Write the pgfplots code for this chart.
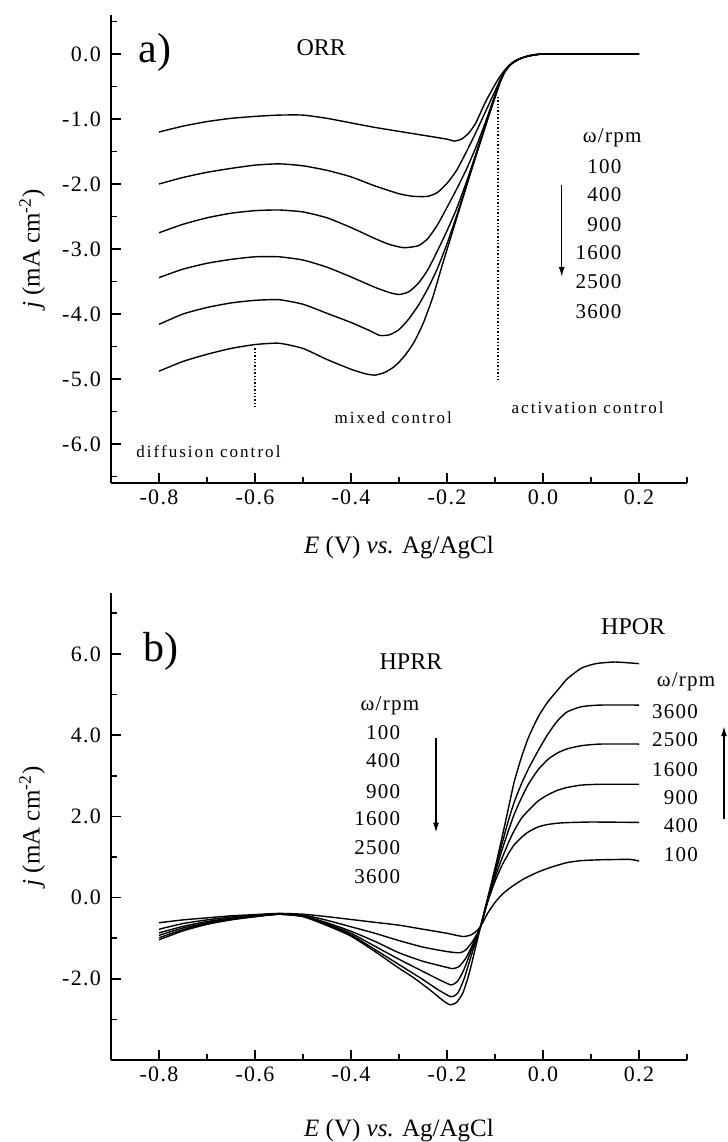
\documentclass[border=0pt]{standalone}
\usepackage{fontspec}
\setmainfont{Liberation Serif}
\newfontfamily\spaced{Liberation Serif}[LetterSpace=12]
\newfontfamily\tickfont{Liberation Serif}[LetterSpace=6]
\usepackage{pgfplots}
\pgfplotsset{compat=1.18}
\usetikzlibrary{arrows.meta}

\pgfplotsset{
  myaxis/.style={
    scale only axis, width=288pt,
    axis lines=left, axis line style={-, line width=1pt},
    xmin=-0.9, xmax=0.3,
    xtick={-0.8,-0.6,-0.4,-0.2,0,0.2},
    minor xtick={-0.7,-0.5,-0.3,-0.1,0.1,0.3},
    tick align=inside, tick pos=left,
    major tick length=5pt, minor tick length=3pt,
    every tick/.style={black, line width=0.8pt},
    /pgf/number format/.cd, fixed, fixed zerofill, precision=1, assume math mode=true,
    /pgfplots/.cd,
    ticklabel style={font=\tickfont\fontsize{11}{13}\selectfont},
    yticklabel style={xshift=-1.5pt},
    clip=false,
    cycle list={{black, solid, line width=0.7pt, mark=none}},
    every axis plot post/.append style={black, solid, line width=0.7pt, mark=none, smooth, tension=0.35},
    xlabel={\textit{E} (V) \textit{vs.} Ag/AgCl},
    ylabel={\textit{j} (mA cm\textsuperscript{-2})},
    label style={font=\fontsize{12.5}{15}\selectfont},
    ylabel style={at={(axis description cs:-0.137,0.5)}, anchor=center},
  }
}

\begin{document}
\begin{tikzpicture}
\path[use as bounding box] (0,0) rectangle (364pt,571pt);

% ---------------- panel a ----------------
\begin{axis}[myaxis, at={(55.5pt,329.5pt)}, anchor=south west, height=234pt,
  ymin=-6.6, ymax=0.6,
  ytick={-6,-5,-4,-3,-2,-1,0},
  minor ytick={-6.5,-5.5,-4.5,-3.5,-2.5,-1.5,-0.5,0.5},
  xlabel style={at={(axis description cs:0.5,-0.137)}, anchor=center},
]
\addplot coordinates {(-0.8,-1.20) (-0.75,-1.11) (-0.7,-1.04) (-0.65,-0.99) (-0.6,-0.96) (-0.55,-0.94) (-0.5,-0.94) (-0.45,-0.99) (-0.4,-1.06) (-0.35,-1.13) (-0.3,-1.19) (-0.25,-1.25) (-0.2,-1.31) (-0.185,-1.34) (-0.17,-1.31) (-0.155,-1.22) (-0.14,-1.06) (-0.12,-0.74) (-0.1,-0.47) (-0.09,-0.35) (-0.08,-0.25) (-0.07,-0.17) (-0.06,-0.11) (-0.05,-0.075) (-0.04,-0.05) (-0.03,-0.03) (-0.02,-0.015) (-0.01,-0.006) (0,-0.002) (0.05,0) (0.2,0)};
\addplot coordinates {(-0.8,-2.00) (-0.75,-1.90) (-0.7,-1.82) (-0.65,-1.76) (-0.6,-1.71) (-0.55,-1.69) (-0.5,-1.72) (-0.45,-1.79) (-0.4,-1.89) (-0.35,-2.03) (-0.3,-2.15) (-0.27,-2.19) (-0.24,-2.19) (-0.22,-2.13) (-0.2,-1.99) (-0.18,-1.79) (-0.16,-1.51) (-0.14,-1.21) (-0.12,-0.89) (-0.1,-0.57) (-0.09,-0.41) (-0.08,-0.27) (-0.07,-0.18) (-0.06,-0.12) (-0.05,-0.08) (-0.04,-0.05) (-0.03,-0.03) (-0.02,-0.015) (-0.01,-0.006) (0,-0.002) (0.05,0) (0.2,0)};
\addplot coordinates {(-0.8,-2.75) (-0.75,-2.62) (-0.7,-2.52) (-0.65,-2.45) (-0.6,-2.41) (-0.55,-2.40) (-0.5,-2.43) (-0.45,-2.52) (-0.4,-2.67) (-0.35,-2.84) (-0.32,-2.93) (-0.29,-2.98) (-0.26,-2.95) (-0.24,-2.84) (-0.22,-2.63) (-0.2,-2.36) (-0.18,-2.08) (-0.16,-1.78) (-0.14,-1.44) (-0.12,-1.05) (-0.1,-0.63) (-0.09,-0.42) (-0.08,-0.28) (-0.07,-0.18) (-0.06,-0.12) (-0.05,-0.08) (-0.04,-0.05) (-0.03,-0.03) (-0.02,-0.015) (-0.01,-0.006) (0,-0.002) (0.05,0) (0.2,0)};
\addplot coordinates {(-0.8,-3.44) (-0.75,-3.31) (-0.7,-3.22) (-0.65,-3.16) (-0.6,-3.12) (-0.55,-3.12) (-0.5,-3.17) (-0.45,-3.28) (-0.4,-3.43) (-0.35,-3.59) (-0.32,-3.67) (-0.3,-3.70) (-0.28,-3.66) (-0.26,-3.53) (-0.24,-3.32) (-0.22,-3.03) (-0.2,-2.72) (-0.18,-2.38) (-0.16,-1.98) (-0.14,-1.54) (-0.12,-1.09) (-0.1,-0.65) (-0.09,-0.43) (-0.08,-0.28) (-0.07,-0.18) (-0.06,-0.12) (-0.05,-0.08) (-0.04,-0.05) (-0.03,-0.03) (-0.02,-0.015) (-0.01,-0.006) (0,-0.002) (0.05,0) (0.2,0)};
\addplot coordinates {(-0.8,-4.16) (-0.75,-4.00) (-0.7,-3.90) (-0.65,-3.83) (-0.6,-3.79) (-0.55,-3.78) (-0.5,-3.85) (-0.45,-3.99) (-0.4,-4.13) (-0.36,-4.26) (-0.34,-4.33) (-0.32,-4.32) (-0.3,-4.24) (-0.28,-4.08) (-0.26,-3.87) (-0.24,-3.61) (-0.22,-3.30) (-0.2,-2.92) (-0.18,-2.49) (-0.16,-2.03) (-0.14,-1.57) (-0.12,-1.11) (-0.1,-0.66) (-0.09,-0.44) (-0.08,-0.28) (-0.07,-0.18) (-0.06,-0.12) (-0.05,-0.08) (-0.04,-0.05) (-0.03,-0.03) (-0.02,-0.015) (-0.01,-0.006) (0,-0.002) (0.05,0) (0.2,0)};
\addplot coordinates {(-0.8,-4.88) (-0.75,-4.73) (-0.7,-4.62) (-0.65,-4.53) (-0.6,-4.47) (-0.55,-4.45) (-0.5,-4.53) (-0.45,-4.70) (-0.4,-4.85) (-0.37,-4.92) (-0.35,-4.94) (-0.33,-4.90) (-0.31,-4.81) (-0.29,-4.66) (-0.27,-4.45) (-0.25,-4.15) (-0.23,-3.75) (-0.21,-3.25) (-0.19,-2.77) (-0.17,-2.29) (-0.15,-1.81) (-0.13,-1.34) (-0.11,-0.88) (-0.1,-0.67) (-0.09,-0.45) (-0.08,-0.28) (-0.07,-0.18) (-0.06,-0.12) (-0.05,-0.08) (-0.04,-0.05) (-0.03,-0.03) (-0.02,-0.015) (-0.01,-0.006) (0,-0.002) (0.05,0) (0.2,0)};

\draw[densely dotted, line width=0.7pt] (axis cs:-0.094,-0.66) -- (axis cs:-0.094,-5.01);
\draw[densely dotted, line width=0.7pt] (axis cs:-0.6,-4.53) -- (axis cs:-0.6,-5.42);
\node[font=\fontsize{21}{24}\selectfont] at (axis cs:-0.809,0.02) {a)};
\node[font=\fontsize{12}{14}\selectfont] at (axis cs:-0.462,0.10) {ORR};
\node[font=\spaced\fontsize{8.5}{10}\selectfont] at (axis cs:-0.312,-5.59) {mixed control};
\node[font=\spaced\fontsize{8.5}{10}\selectfont] at (axis cs:0.093,-5.44) {activation control};
\node[font=\spaced\fontsize{8.5}{10}\selectfont] at (axis cs:-0.697,-6.12) {diffusion control};
\node[font=\tickfont\fontsize{10.5}{12}\selectfont] at (axis cs:0.144,-1.29) {ω/rpm};
\node[anchor=east, font=\tickfont\fontsize{10.5}{12}\selectfont] at (axis cs:0.178,-1.74) {100};
\node[anchor=east, font=\tickfont\fontsize{10.5}{12}\selectfont] at (axis cs:0.178,-2.17) {400};
\node[anchor=east, font=\tickfont\fontsize{10.5}{12}\selectfont] at (axis cs:0.178,-2.63) {900};
\node[anchor=east, font=\tickfont\fontsize{10.5}{12}\selectfont] at (axis cs:0.178,-3.06) {1600};
\node[anchor=east, font=\tickfont\fontsize{10.5}{12}\selectfont] at (axis cs:0.178,-3.50) {2500};
\node[anchor=east, font=\tickfont\fontsize{10.5}{12}\selectfont] at (axis cs:0.178,-3.97) {3600};
\draw[line width=0.7pt, -{Latex[length=5pt,width=3pt]}] (axis cs:0.039,-2.01) -- (axis cs:0.039,-3.43);
\end{axis}

% ---------------- panel b ----------------
\begin{axis}[myaxis, at={(55.5pt,41pt)}, anchor=south west, height=233.5pt,
  ymin=-4, ymax=7.5,
  ytick={-2,0,2,4,6},
  minor ytick={-3,-1,1,3,5,7},
  xlabel style={at={(axis description cs:0.5,-0.15)}, anchor=center},
]
\addplot coordinates {(-0.8,-0.62) (-0.75,-0.55) (-0.7,-0.5) (-0.65,-0.45) (-0.6,-0.42) (-0.55,-0.39) (-0.5,-0.41) (-0.45,-0.47) (-0.4,-0.54) (-0.35,-0.61) (-0.3,-0.68) (-0.25,-0.78) (-0.2,-0.88) (-0.167,-0.96) (-0.15,-0.92) (-0.14,-0.84) (-0.13,-0.71) (-0.115,-0.38) (-0.1,-0.12) (-0.085,0.08) (-0.065,0.27) (-0.04,0.46) (-0.01,0.63) (0.02,0.76) (0.05,0.86) (0.08,0.91) (0.12,0.93) (0.18,0.94) (0.2,0.90)};
\addplot coordinates {(-0.8,-0.78) (-0.75,-0.64) (-0.7,-0.55) (-0.65,-0.48) (-0.6,-0.43) (-0.55,-0.40) (-0.5,-0.43) (-0.45,-0.56) (-0.4,-0.72) (-0.35,-0.88) (-0.3,-1.06) (-0.25,-1.22) (-0.2,-1.33) (-0.173,-1.36) (-0.16,-1.28) (-0.145,-1.05) (-0.13,-0.71) (-0.115,-0.10) (-0.1,0.40) (-0.086,0.78) (-0.072,1.08) (-0.06,1.30) (-0.045,1.48) (-0.03,1.62) (-0.01,1.74) (0.01,1.80) (0.04,1.84) (0.1,1.86) (0.2,1.85)};
\addplot coordinates {(-0.8,-0.87) (-0.75,-0.71) (-0.7,-0.59) (-0.65,-0.51) (-0.6,-0.45) (-0.55,-0.41) (-0.5,-0.45) (-0.45,-0.62) (-0.4,-0.83) (-0.35,-1.08) (-0.3,-1.36) (-0.25,-1.57) (-0.2,-1.72) (-0.188,-1.75) (-0.175,-1.70) (-0.16,-1.48) (-0.145,-1.12) (-0.13,-0.71) (-0.115,-0.06) (-0.1,0.50) (-0.086,0.95) (-0.072,1.35) (-0.06,1.65) (-0.045,1.95) (-0.03,2.15) (-0.01,2.38) (0.01,2.53) (0.03,2.64) (0.05,2.71) (0.08,2.77) (0.12,2.79) (0.2,2.79)};
\addplot coordinates {(-0.8,-0.93) (-0.75,-0.75) (-0.7,-0.62) (-0.65,-0.53) (-0.6,-0.46) (-0.55,-0.41) (-0.5,-0.46) (-0.45,-0.65) (-0.4,-0.88) (-0.35,-1.2) (-0.3,-1.52) (-0.25,-1.82) (-0.22,-2.0) (-0.192,-2.15) (-0.178,-2.06) (-0.165,-1.78) (-0.15,-1.32) (-0.13,-0.71) (-0.115,-0.04) (-0.1,0.60) (-0.086,1.15) (-0.072,1.65) (-0.06,2.05) (-0.045,2.45) (-0.03,2.80) (-0.01,3.15) (0.01,3.40) (0.03,3.56) (0.05,3.66) (0.08,3.74) (0.12,3.78) (0.2,3.78)};
\addplot coordinates {(-0.8,-0.99) (-0.75,-0.79) (-0.7,-0.64) (-0.65,-0.54) (-0.6,-0.47) (-0.55,-0.41) (-0.5,-0.46) (-0.45,-0.67) (-0.4,-0.92) (-0.35,-1.28) (-0.3,-1.65) (-0.25,-2.02) (-0.22,-2.26) (-0.192,-2.44) (-0.178,-2.36) (-0.165,-2.02) (-0.15,-1.45) (-0.13,-0.71) (-0.115,-0.02) (-0.1,0.68) (-0.086,1.30) (-0.072,1.90) (-0.06,2.35) (-0.045,2.80) (-0.03,3.18) (-0.01,3.62) (0.01,4.02) (0.03,4.35) (0.05,4.57) (0.08,4.70) (0.12,4.74) (0.2,4.74)};
\addplot coordinates {(-0.8,-1.04) (-0.75,-0.82) (-0.7,-0.66) (-0.65,-0.55) (-0.6,-0.47) (-0.55,-0.41) (-0.5,-0.47) (-0.45,-0.69) (-0.4,-0.95) (-0.35,-1.33) (-0.3,-1.74) (-0.27,-1.97) (-0.236,-2.27) (-0.21,-2.52) (-0.194,-2.64) (-0.18,-2.58) (-0.167,-2.35) (-0.155,-1.92) (-0.145,-1.45) (-0.13,-0.71) (-0.115,0.0) (-0.1,0.72) (-0.086,1.45) (-0.072,2.20) (-0.06,2.85) (-0.045,3.45) (-0.03,3.95) (-0.01,4.45) (0.01,4.82) (0.03,5.10) (0.05,5.38) (0.08,5.65) (0.11,5.76) (0.15,5.80) (0.2,5.76)};

\node[font=\fontsize{21}{24}\selectfont] at (axis cs:-0.796,6.05) {b)};
\node[font=\fontsize{12}{14}\selectfont] at (axis cs:0.188,6.67) {HPOR};
\node[font=\fontsize{12}{14}\selectfont] at (axis cs:-0.275,5.80) {HPRR};
\node[font=\tickfont\fontsize{10.5}{12}\selectfont] at (axis cs:-0.319,4.72) {ω/rpm};
\node[anchor=east, font=\tickfont\fontsize{10.5}{12}\selectfont] at (axis cs:-0.283,4.05) {100};
\node[anchor=east, font=\tickfont\fontsize{10.5}{12}\selectfont] at (axis cs:-0.283,3.36) {400};
\node[anchor=east, font=\tickfont\fontsize{10.5}{12}\selectfont] at (axis cs:-0.283,2.62) {900};
\node[anchor=east, font=\tickfont\fontsize{10.5}{12}\selectfont] at (axis cs:-0.283,1.95) {1600};
\node[anchor=east, font=\tickfont\fontsize{10.5}{12}\selectfont] at (axis cs:-0.283,1.23) {2500};
\node[anchor=east, font=\tickfont\fontsize{10.5}{12}\selectfont] at (axis cs:-0.283,0.52) {3600};
\draw[line width=0.7pt, -{Latex[length=5pt,width=3pt]}] (axis cs:-0.223,3.93) -- (axis cs:-0.223,1.60);
\node[font=\tickfont\fontsize{10.5}{12}\selectfont] at (axis cs:0.298,5.31) {ω/rpm};
\node[anchor=east, font=\tickfont\fontsize{10.5}{12}\selectfont] at (axis cs:0.3375,4.59) {3600};
\node[anchor=east, font=\tickfont\fontsize{10.5}{12}\selectfont] at (axis cs:0.3375,3.90) {2500};
\node[anchor=east, font=\tickfont\fontsize{10.5}{12}\selectfont] at (axis cs:0.3375,3.16) {1600};
\node[anchor=east, font=\tickfont\fontsize{10.5}{12}\selectfont] at (axis cs:0.3375,2.47) {900};
\node[anchor=east, font=\tickfont\fontsize{10.5}{12}\selectfont] at (axis cs:0.3375,1.78) {400};
\node[anchor=east, font=\tickfont\fontsize{10.5}{12}\selectfont] at (axis cs:0.3375,1.06) {100};
\draw[line width=0.7pt, -{Latex[length=5pt,width=3pt]}] (axis cs:0.377,1.93) -- (axis cs:0.377,4.22);
\end{axis}
\end{tikzpicture}
\end{document}
